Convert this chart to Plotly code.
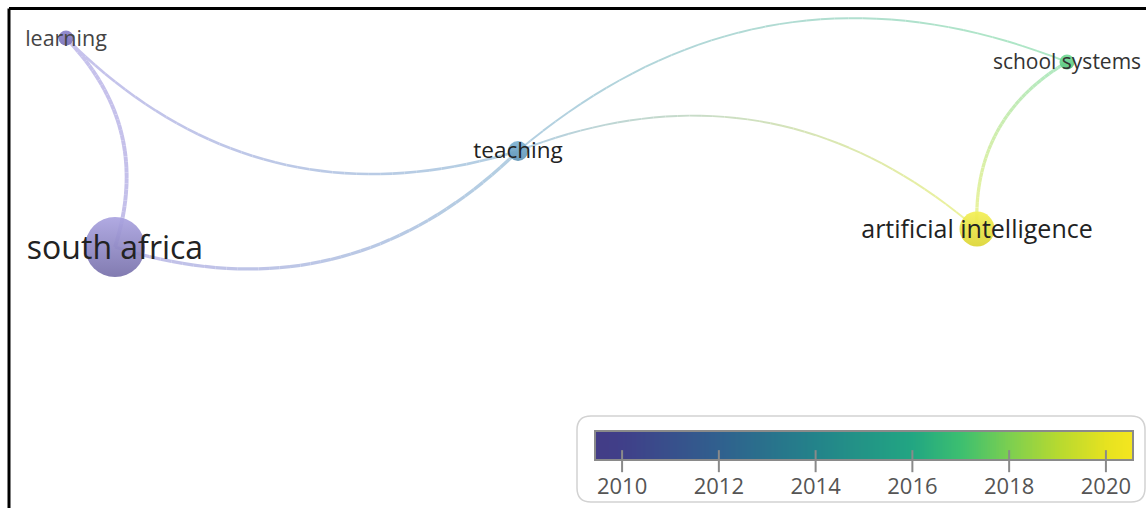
import numpy as np
import plotly.graph_objects as go

# ---------------- data ----------------
labels = ["learning", "south africa", "teaching", "artificial intelligence", "school systems"]
map_x = [66, 115, 518, 977, 1067]
map_y = [38, 247, 151, 229, 62]
avg_pub_year = [2010.2, 2010.6, 2013.0, 2020.4, 2016.8]

edge_source = [0, 2, 2, 2, 2, 3]
edge_target = [1, 0, 1, 4, 3, 4]
edge_strength = [3, 2, 2.5, 1.5, 1.5, 2.5]

tick_years = [2010, 2012, 2014, 2016, 2018, 2020]
year_min, year_max = 2009.44, 2020.56

# ---------------- styles ----------------
FONT = "Open Sans"
node_diam = [15, 60, 20, 35, 15]
node_top = ["#8b83cc", "#aaa3e0", "#7eb3d3", "#f3ef55", "#74dc98"]
node_bot = ["#7a72b8", "#7770aa", "#5f93b4", "#dcd534", "#55c47c"]
edge_col = ["#c7c2ec", "#c3bfe9", "#b3cfe2", "#eef39a", "#aee8c4"]
label_size = [21.5, 32, 22.5, 25, 21]
label_col = ["#444444", "#222222", "#222222", "#222222", "#333333"]
label_dy = [3, 4, 1.5, 3, 1.5]   # small vertical nudge of label (px)

colorscale = [
    [0.00, "#433c86"], [0.05, "#403f89"], [0.23, "#30608e"], [0.41, "#23838a"],
    [0.59, "#22a682"], [0.68, "#3cbf70"], [0.77, "#7ccf50"], [0.86, "#b6d930"],
    [0.95, "#e6e220"], [1.00, "#f5e61f"],
]

W, H = 1146, 508


def hex2rgb(h):
    h = h.lstrip("#")
    return np.array([int(h[i:i + 2], 16) for i in (0, 2, 4)], dtype=float)


fig = go.Figure()

# edges as curved gradient segments
K = 0.15
NSEG = 40
for s, t, w in zip(edge_source, edge_target, edge_strength):
    p0 = np.array([map_x[s], map_y[s]], float)
    p2 = np.array([map_x[t], map_y[t]], float)
    d = p2 - p0
    L = np.hypot(*d)
    n = np.array([d[1], -d[0]]) / L
    p1 = (p0 + p2) / 2 + 2 * K * L * n
    tt = np.linspace(0, 1, NSEG + 1)
    pts = ((1 - tt) ** 2)[:, None] * p0 + (2 * (1 - tt) * tt)[:, None] * p1 + (tt ** 2)[:, None] * p2
    c0, c1 = hex2rgb(edge_col[s]), hex2rgb(edge_col[t])
    for i in range(NSEG):
        f = (i + 0.5) / NSEG
        c = (1 - f) * c0 + f * c1
        fig.add_trace(go.Scatter(
            x=pts[i:i + 2, 0], y=pts[i:i + 2, 1], mode="lines",
            line=dict(color="rgb(%d,%d,%d)" % tuple(c.round()), width=w * 1.3),
            hoverinfo="skip", showlegend=False))

# nodes
fig.add_trace(go.Scatter(
    x=map_x, y=map_y, mode="markers",
    marker=dict(size=node_diam, color=node_top, opacity=0.92,
                line=dict(width=0),
                gradient=dict(type="vertical", color=node_bot)),
    hovertext=[f"{l}: {y}" for l, y in zip(labels, avg_pub_year)],
    hoverinfo="text", showlegend=False))

# labels
fig.add_trace(go.Scatter(
    x=map_x, y=[y + d for y, d in zip(map_y, label_dy)], mode="text", text=labels,
    textposition="middle center",
    textfont=dict(family=FONT, size=label_size, color=label_col),
    hoverinfo="skip", showlegend=False))

# colour bar as heatmap
cb_x = np.linspace(year_min, year_max, 300)
fig.add_trace(go.Heatmap(
    x=cb_x, y=[0, 1], z=[cb_x, cb_x], zmin=year_min, zmax=year_max,
    colorscale=colorscale, showscale=False, xaxis="x2", yaxis="y2",
    hoverinfo="skip"))

x0, x1, y0, y1, r = 577, 1145, 416, 502, 14
box = (f"M {x0 + r},{y0} L {x1 - r},{y0} Q {x1},{y0} {x1},{y0 + r} "
       f"L {x1},{y1 - r} Q {x1},{y1} {x1 - r},{y1} L {x0 + r},{y1} "
       f"Q {x0},{y1} {x0},{y1 - r} L {x0},{y0 + r} Q {x0},{y0} {x0 + r},{y0} Z")

shapes = [
    dict(type="path", path=box, xref="x", yref="y", fillcolor="white",
         line=dict(color="#d2d2d2", width=1.5), layer="below"),
    dict(type="line", xref="x", yref="y", x0=9, y0=H, x1=9, y1=8.5,
         line=dict(color="black", width=3)),
    dict(type="line", xref="x", yref="y", x0=9, y0=8.5, x1=W, y1=8.5,
         line=dict(color="black", width=3)),
    dict(type="rect", xref="x2 domain", yref="y2 domain", x0=0, x1=1, y0=0, y1=1,
         line=dict(color="#8a8a8a", width=2), layer="above"),
]
for ty in tick_years:
    shapes.append(dict(type="line", xref="x2", yref="y2 domain", x0=ty, x1=ty,
                       y0=-0.42, y1=0.34, line=dict(color="#8a8a8a", width=2),
                       layer="above"))

fig.update_layout(
    width=W, height=H, margin=dict(l=0, r=0, t=0, b=0),
    paper_bgcolor="white", plot_bgcolor="white", showlegend=False,
    xaxis=dict(range=[0, W], visible=False, domain=[0, 1]),
    yaxis=dict(range=[H, 0], visible=False, domain=[0, 1]),
    xaxis2=dict(anchor="y2", domain=[595 / W, 1133 / W],
                range=[year_min, year_max],
                tickvals=tick_years, ticks="outside", ticklen=7,
                tickcolor="rgba(0,0,0,0)", showgrid=False, zeroline=False,
                showline=False, tickfont=dict(family=FONT, size=22, color="#555555")),
    yaxis2=dict(anchor="x2", domain=[(H - 460) / H, (H - 431) / H],
                range=[0, 1], visible=False),
    shapes=shapes,
)

fig.write_html("out.html", config={"displayModeBar": False},
               post_script="document.body.style.margin='0';document.body.style.overflow='hidden';")
